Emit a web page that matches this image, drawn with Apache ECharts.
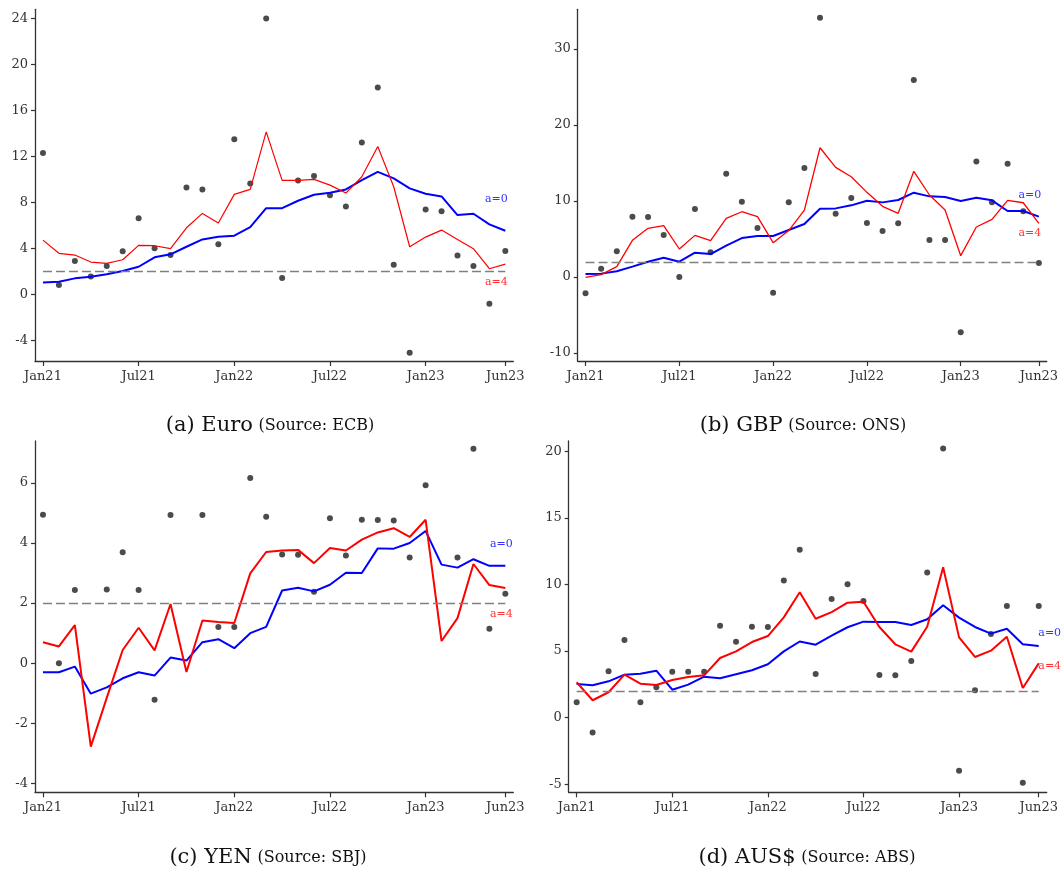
<!DOCTYPE html>
<html>
<head>
<meta charset="utf-8">
<script src="https://cdn.jsdelivr.net/npm/echarts@6/dist/echarts.min.js"></script>
<style>
html,body{margin:0;padding:0;background:#fff;}
#chart{width:1062px;height:870px;}
</style>
</head>
<body>
<div id="chart"></div>
<script>
// ---------- DATA ----------
const months = ['Jan21','Feb21','Mar21','Apr21','May21','Jun21','Jul21','Aug21','Sep21','Oct21','Nov21','Dec21',
  'Jan22','Feb22','Mar22','Apr22','May22','Jun22','Jul22','Aug22','Sep22','Oct22','Nov22','Dec22',
  'Jan23','Feb23','Mar23','Apr23','May23','Jun23'];
const xTickLabels = ['Jan21','Jul21','Jan22','Jul22','Jan23','Jun23'];
const targetLevel = 2;

// (a) Euro
const euroObs = [12.29,0.81,2.90,1.56,2.46,3.74,6.63,4.00,3.42,9.30,9.13,4.35,13.5,9.65,24.0,1.42,9.91,10.29,8.63,7.65,13.2,18.0,2.58,-5.08,7.39,7.22,3.39,2.46,-0.81,3.77];
const euroA0 = [1.04,1.10,1.39,1.53,1.74,2.03,2.40,3.22,3.48,4.14,4.78,5.01,5.10,5.85,7.50,7.50,8.14,8.66,8.83,9.13,9.94,10.66,10.09,9.22,8.75,8.52,6.90,7.01,6.09,5.53];
const euroA4 = [4.72,3.57,3.42,2.81,2.70,3.01,4.26,4.23,3.97,5.79,7.04,6.20,8.70,9.13,14.14,9.91,9.91,10.0,9.50,8.81,10.23,12.87,9.36,4.14,4.98,5.59,4.78,3.97,2.23,2.63];
const euroYTicks = [-4,0,4,8,12,16,20,24];

// (b) GBP
const gbpObs = [-2.15,1.09,3.37,7.93,7.88,5.52,0,8.94,3.24,13.58,9.90,6.44,-2.06,9.81,14.32,34.08,8.32,10.38,7.10,6.04,7.05,25.89,4.86,4.86,-7.27,15.2,9.81,14.89,8.63,1.84];
const gbpA0 = [0.39,0.44,0.75,1.36,2.01,2.54,2.01,3.20,3.02,4.12,5.12,5.39,5.39,6.18,6.96,8.98,9.02,9.42,10.03,9.81,10.12,11.08,10.60,10.51,9.99,10.42,10.08,8.67,8.67,7.93];
const gbpA4 = [-0.04,0.31,1.36,4.82,6.40,6.75,3.68,5.47,4.78,7.71,8.58,7.93,4.51,6.10,8.80,16.99,14.41,13.18,11.13,9.29,8.37,13.89,10.78,8.80,2.80,6.57,7.58,10.08,9.76,7.05];
const gbpYTicks = [-10,0,10,20,30];

// (c) YEN
const yenObs = [4.94,0,2.44,null,2.45,3.69,2.44,-1.21,4.93,null,4.93,1.21,1.21,6.16,4.87,3.62,3.61,2.38,4.82,3.58,4.77,4.76,4.75,3.52,5.92,null,3.52,7.13,1.15,2.31];
const yenA0 = [-0.30,-0.30,-0.11,-1.01,-0.80,-0.50,-0.30,-0.41,0.19,0.09,0.70,0.80,0.50,1.0,1.21,2.42,2.51,2.39,2.61,3.01,3.0,3.82,3.81,4.0,4.40,3.28,3.18,3.46,3.24,3.24];
const yenA4 = [0.70,0.56,1.27,-2.77,-1.15,0.44,1.18,0.43,1.97,-0.29,1.42,1.37,1.34,2.99,3.70,3.75,3.77,3.33,3.83,3.75,4.11,4.35,4.49,4.20,4.77,0.74,1.50,3.30,2.60,2.50];
const yenYTicks = [-4,-2,0,2,4,6];

// (d) AUS$
const audObs = [1.16,-1.12,3.48,5.83,1.16,2.28,3.45,3.45,3.45,6.91,5.71,6.83,6.81,10.29,12.6,3.28,8.91,10.01,8.76,3.21,3.18,4.26,10.89,20.2,-3.98,2.06,6.28,8.39,-4.88,8.39];
const audA0 = [2.53,2.43,2.73,3.23,3.30,3.53,2.10,2.48,3.08,2.96,3.26,3.56,4.01,4.98,5.72,5.48,6.16,6.79,7.21,7.19,7.19,6.96,7.39,8.44,7.51,6.81,6.31,6.68,5.51,5.38];
const audA4 = [2.66,1.31,1.91,3.23,2.55,2.45,2.83,3.06,3.18,4.48,4.98,5.68,6.13,7.53,9.41,7.43,7.93,8.63,8.71,6.81,5.51,4.96,6.83,11.29,6.03,4.56,5.03,6.08,2.23,4.08];
const audYTicks = [-5,0,5,10,15,20];

const captions = [
  ['(a) Euro','(Source: ECB)'],
  ['(b) GBP','(Source: ONS)'],
  ['(c) YEN','(Source: SBJ)'],
  ['(d) AUS$','(Source: ABS)']
];

// ---------- LAYOUT ----------
const FONT = 'DejaVu Serif';
const panels = [
  {obs: euroObs, a0: euroA0, a4: euroA4, ticks: euroYTicks, min: -5.8, max: 24.8,
   grid: {left: 35, right: 548.7, top: 9.3, bottom: 509}, red: 1.2, lab: [8.29, 1.07], labDx: -9, cap: [265, 410]},
  {obs: gbpObs, a0: gbpA0, a4: gbpA4, ticks: gbpYTicks, min: -11.05, max: 35.2,
   grid: {left: 577.7, right: 15.3, top: 9.3, bottom: 509}, red: 1.3, lab: [10.74, 5.74], labDx: -9, cap: [798, 410]},
  {obs: yenObs, a0: yenA0, a4: yenA4, ticks: yenYTicks, min: -4.29, max: 7.39,
   grid: {left: 35, right: 548.7, top: 441, bottom: 77.7}, red: 2, lab: [3.96, 1.64], labDx: -4, cap: [263, 842]},
  {obs: audObs, a0: audA0, a4: audA4, ticks: audYTicks, min: -5.6, max: 20.77,
   grid: {left: 568.7, right: 15.3, top: 441, bottom: 77.7}, red: 2, lab: [6.34, 3.90], labDx: 11, cap: [802, 842]}
];

const axisColor = '#333';
const grids = [], xAxes = [], yAxes = [], series = [], titles = [];
const showIdx = (i) => xTickLabels.indexOf(months[i]) >= 0;

panels.forEach((p, k) => {
  grids.push(Object.assign({containLabel: false}, p.grid));
  xAxes.push({
    gridIndex: k, type: 'category', data: months, boundaryGap: true,
    axisLine: {show: true, onZero: false, lineStyle: {color: axisColor, width: 1.3}},
    axisTick: {show: true, alignWithLabel: true, length: 5, interval: (i) => showIdx(i), lineStyle: {color: axisColor, width: 1.2}},
    axisLabel: {interval: (i) => showIdx(i), margin: 9, fontFamily: FONT, fontSize: 13, color: '#333'},
    splitLine: {show: false}
  });
  yAxes.push({
    gridIndex: k, type: 'value', min: p.min, max: p.max,
    axisLine: {show: true, onZero: false, lineStyle: {color: axisColor, width: 1.3}},
    axisTick: {show: true, length: 4, customValues: p.ticks, lineStyle: {color: axisColor, width: 1.2}},
    axisLabel: {customValues: p.ticks, margin: 7, fontFamily: FONT, fontSize: 13, color: '#333'},
    splitLine: {show: false}
  });
  series.push({
    type: 'scatter', xAxisIndex: k, yAxisIndex: k, data: p.obs, symbolSize: 6,
    itemStyle: {color: '#1e1e1e'}, z: 2
  });
  series.push({
    type: 'line', xAxisIndex: k, yAxisIndex: k, data: p.a0, symbol: 'none',
    lineStyle: {color: '#0000ff', width: 2}, z: 3,
    markLine: {
      symbol: 'none', silent: true, label: {show: false},
      lineStyle: {type: [9, 4], color: '#808080', width: 1.3},
      data: [[{coord: [months[0], targetLevel]}, {coord: [months[months.length - 1], targetLevel]}]]
    },
    markPoint: {
      symbol: 'circle', symbolSize: 0, silent: true,
      data: [{coord: [months[months.length - 1], p.lab[0]]}],
      label: {show: true, position: 'inside', formatter: 'a=0', offset: [p.labDx, 0], color: '#3333ff', fontFamily: FONT, fontSize: 11}
    }
  });
  series.push({
    type: 'line', xAxisIndex: k, yAxisIndex: k, data: p.a4, symbol: 'none',
    lineStyle: {color: '#ff0000', width: p.red}, z: 3,
    markPoint: {
      symbol: 'circle', symbolSize: 0, silent: true,
      data: [{coord: [months[months.length - 1], p.lab[1]]}],
      label: {show: true, position: 'inside', formatter: 'a=4', offset: [p.labDx, 0], color: '#ff3333', fontFamily: FONT, fontSize: 11}
    }
  });
  titles.push({
    text: '{m|' + captions[k][0] + '} {s|' + captions[k][1] + '}',
    left: p.cap[0], top: p.cap[1], textAlign: 'center',
    textStyle: {fontWeight: 'normal', fontFamily: FONT, rich: {
      m: {fontFamily: FONT, fontSize: 21, fontWeight: 'normal', color: '#111'},
      s: {fontFamily: FONT, fontSize: 16, fontWeight: 'normal', color: '#111'}
    }}
  });
});

const chart = echarts.init(document.getElementById('chart'), null, {renderer: 'canvas'});
chart.setOption({
  animation: false,
  backgroundColor: '#fff',
  title: titles,
  grid: grids,
  xAxis: xAxes,
  yAxis: yAxes,
  series: series
});
</script>
</body>
</html>
